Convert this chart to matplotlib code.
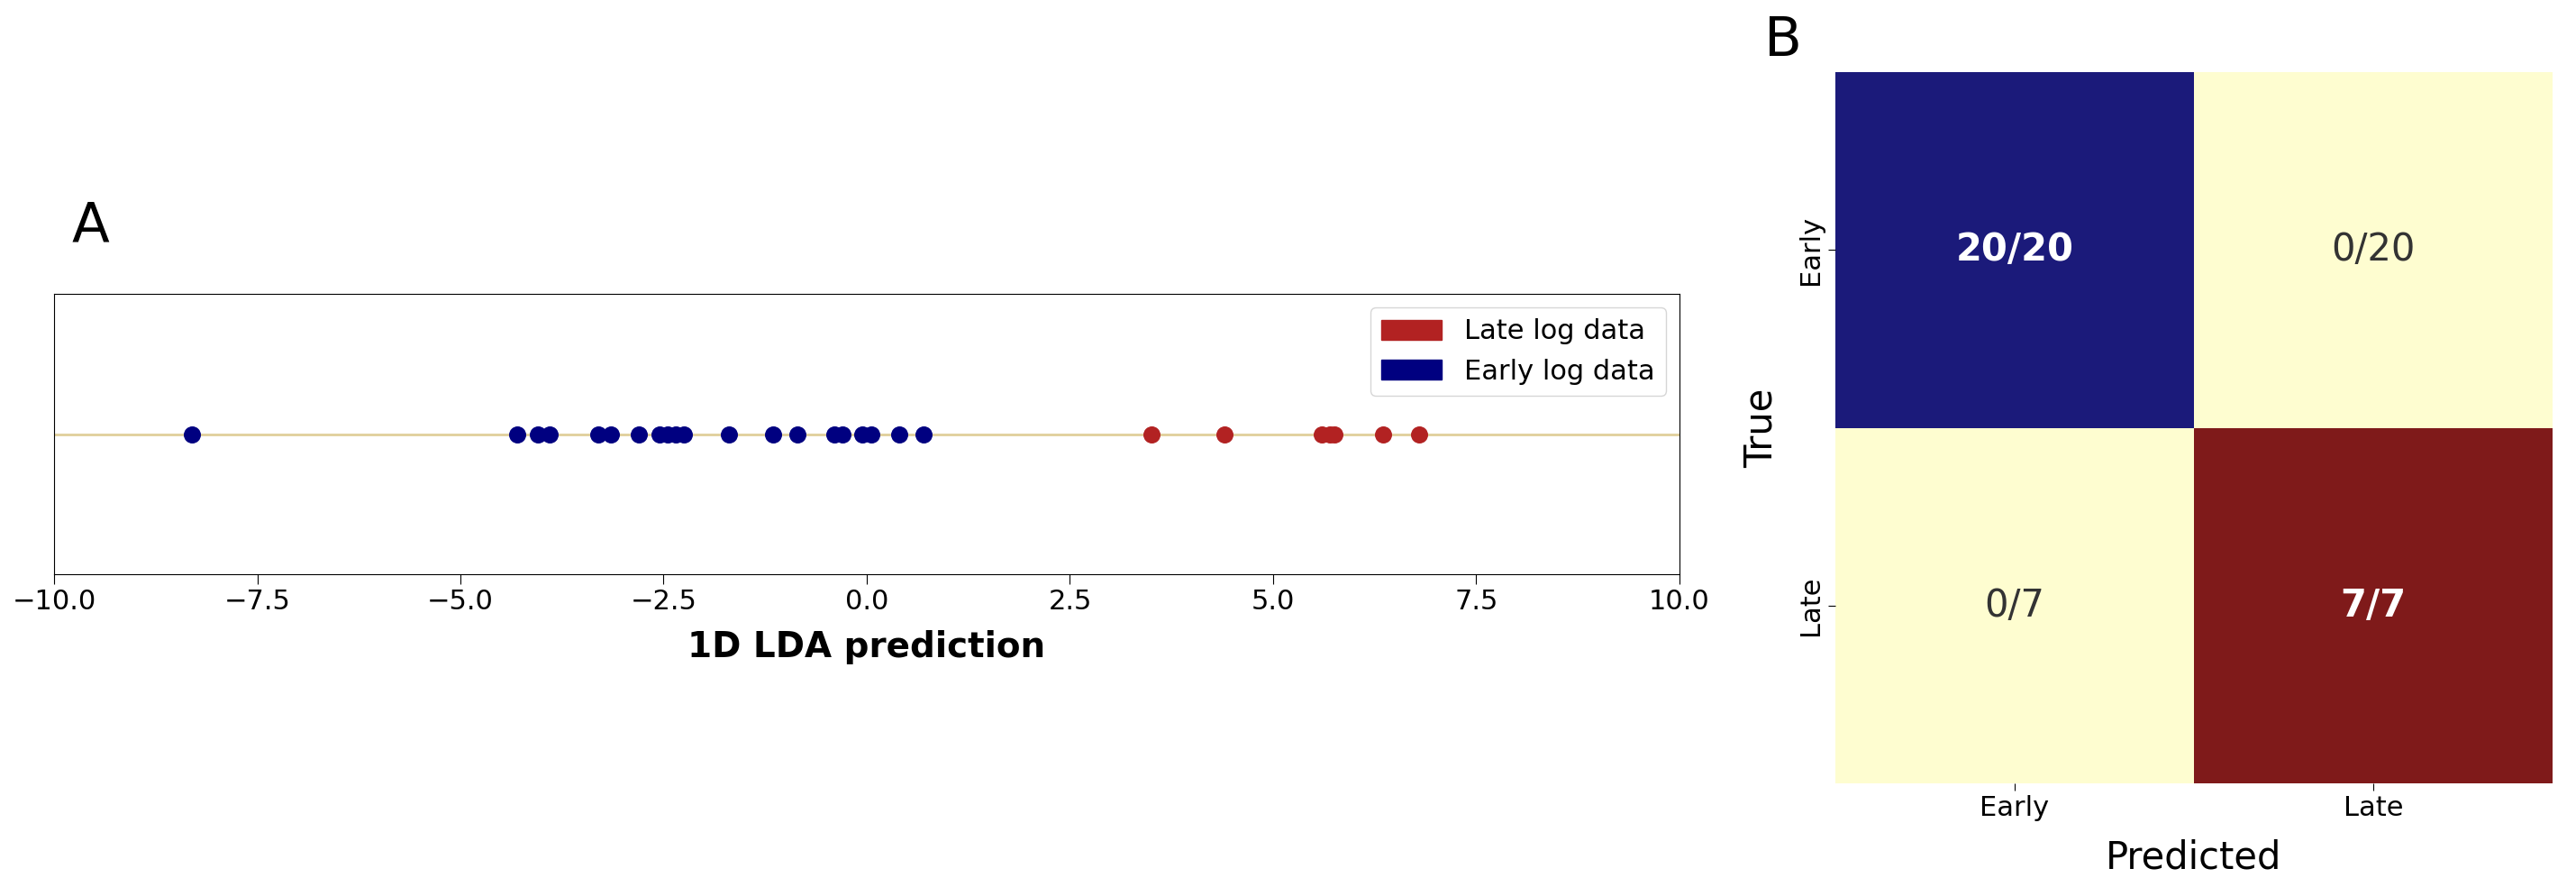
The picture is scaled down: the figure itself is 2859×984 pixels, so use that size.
import matplotlib
matplotlib.use("Agg")
import matplotlib.pyplot as plt
import numpy as np

early = [-8.3, -4.3, -4.05, -3.9, -3.3, -3.15, -2.8, -2.55, -2.45, -2.35, -2.25,
         -1.7, -1.15, -0.85, -0.4, -0.3, -0.05, 0.05, 0.4, 0.7]
late = [3.5, 4.4, 5.6, 5.7, 5.75, 6.35, 6.8]
classes = ["Early", "Late"]
cm_counts = [[20, 0], [0, 7]]
cm_totals = [20, 7]

W, H = 2859, 984
fig = plt.figure(figsize=(W/100, H/100), dpi=100)

ax = fig.add_axes([60/W, 1-637/H, (1864-60)/W, (637-326)/H])
ax.axhline(0, color="#e0cf9a", lw=2, zorder=1)
ax.scatter(late, np.zeros(len(late)), s=160, color="#b22222", zorder=3)
ax.scatter(early, np.zeros(len(early)), s=160, color="#000080", zorder=3)
ax.set_xlim(-10, 10)
ax.set_ylim(-1, 1)
ax.set_yticks([])
ax.set_xticks(np.arange(-10, 10.1, 2.5))
ax.tick_params(axis="x", labelsize=22, length=8)
ax.set_xlabel("1D LDA prediction", fontsize=28, fontweight="bold", labelpad=12)
from matplotlib.patches import Patch
ax.legend(handles=[Patch(color="#b22222", label="Late log data"),
                   Patch(color="#000080", label="Early log data")],
          loc="upper right", fontsize=22, handlelength=2.2)
fig.text(80/W, 1-251/H, "A", fontsize=44, va="center")

bx = fig.add_axes([2037/W, 1-869/H, (2833-2037)/W, (869-80)/H])
colors = [["#1b1a7a", "#fefdd0"], ["#fefdd0", "#7f1a1a"]]
for i in range(2):
    for j in range(2):
        bx.add_patch(plt.Rectangle((j, i), 1, 1, color=colors[i][j], lw=0))
        diag = i == j
        bx.text(j+0.5, i+0.5, f"{cm_counts[i][j]}/{cm_totals[i]}", ha="center", va="center",
                fontsize=30, color="white" if diag else "#333333",
                fontweight="bold" if diag else "normal")
bx.set_xlim(0, 2)
bx.set_ylim(2, 0)
for s in bx.spines.values():
    s.set_visible(False)
bx.set_xticks([0.5, 1.5], classes)
bx.set_yticks([0.5, 1.5], classes, rotation=90, va="center")
bx.tick_params(labelsize=22, length=6)
bx.set_xlabel("Predicted", fontsize=30, labelpad=14)
bx.set_ylabel("True", fontsize=30, labelpad=14)
fig.text(1958/W, 1-46/H, "B", fontsize=44, va="center")

fig.savefig("out.png", dpi=100)
